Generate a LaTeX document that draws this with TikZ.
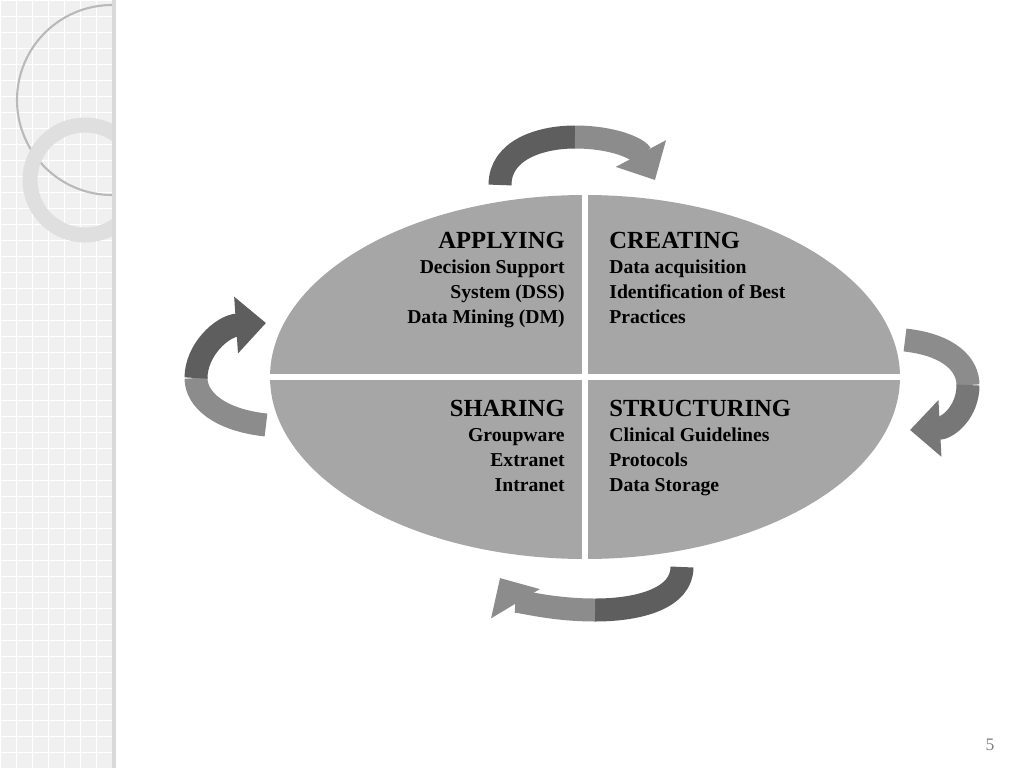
\documentclass[tikz,border=0pt]{standalone}
\usepackage{fontspec}
\setmainfont{Liberation Serif}
\usetikzlibrary{arrows.meta}
\definecolor{ringgray}{HTML}{A6A6A6}
\definecolor{darkband}{HTML}{5E5E5E}
\definecolor{lightband}{HTML}{8C8C8C}
\tikzset{%
  band/.style={line width=0.46cm},
  bandtip/.style={band, -{Triangle[width=1.1cm,length=0.6cm]}},
  quad/.style={inner sep=0pt, font=\bfseries\fontsize{11.2}{14.2}\selectfont}
}
\begin{document}
\begin{tikzpicture}[x=0.02cm,y=-0.02cm]
    \useasboundingbox (0,0) rectangle (1024,768);
    % side panel
    \fill[gray!12] (0,0) rectangle (112,768);
    \foreach \gx in {0,16,...,112} {
      \draw[white, line width=0.3pt] (\gx,0) -- (\gx,768);
    }
    \foreach \gy in {0,16,...,768} {
      \draw[white, line width=0.3pt] (0,\gy) -- (112,\gy);
    }
    \begin{scope}
      \clip (0,0) rectangle (112,768);
      \draw[gray!55, line width=1.2pt] (112,100) circle (95);
      \draw[gray!25, line width=0.3cm] (85,180) circle (55);
    \end{scope}
    \fill[gray!30] (112,0) rectangle (116,768);
    % ellipse
    \fill[ringgray] (585,377) ellipse (315 and 182);
    \draw[white, line width=0.12cm] (585,190) -- (585,565);
    \draw[white, line width=0.12cm] (265,377) -- (905,377);
    % quadrants
    \node[quad, align=right, anchor=north east] (apply) at (565,232)
      {{\fontsize{14}{14}\selectfont APPLYING}\\ Decision Support\\ System (DSS)\\ Data Mining (DM)};
    \node[quad, align=left, anchor=north west] (create) at (609,232)
      {{\fontsize{14}{14}\selectfont CREATING}\\ Data acquisition\\ Identification of Best\\ Practices};
    \node[quad, align=right, anchor=north east] (share) at (565,400)
      {{\fontsize{14}{14}\selectfont SHARING}\\ Groupware\\ Extranet\\ Intranet};
    \node[quad, align=left, anchor=north west] (struct) at (609,400)
      {{\fontsize{14}{14}\selectfont STRUCTURING}\\ Clinical Guidelines\\ Protocols\\ Data Storage};
    % cycle arrows
    \coordinate (t1) at (500,185); \coordinate (t2) at (575,137); \coordinate (t3) at (655,180);
    \draw[band, darkband] (t1) .. controls (500,150) and (540,137) .. (t2);
    \draw[bandtip, lightband] (t2) .. controls (612,137) and (638,148) .. (t3);
    \coordinate (r1) at (905,340); \coordinate (r2) at (968,385); \coordinate (r3) at (910,430);
    \draw[band, lightband] (r1) .. controls (950,345) and (968,365) .. (r2);
    \draw[bandtip, lightband!85!black] (r2) .. controls (968,412) and (948,428) .. (r3);
    \coordinate (b1) at (682,567); \coordinate (b2) at (595,610); \coordinate (b3) at (500,578);
    \draw[band, darkband] (b1) .. controls (682,598) and (640,610) .. (b2);
    \draw[bandtip, lightband] (b2) .. controls (545,610) and (512,598) .. (b3);
    \coordinate (l1) at (266,425); \coordinate (l2) at (196,378); \coordinate (l3) at (266,323);
    \draw[band, lightband] (l1) .. controls (220,420) and (196,400) .. (l2);
    \draw[bandtip, darkband] (l2) .. controls (196,350) and (222,326) .. (l3);
    % page number
    \node[gray, font=\fontsize{10}{12}\selectfont] (pg) at (990,745) {5};
\end{tikzpicture}
\end{document}
